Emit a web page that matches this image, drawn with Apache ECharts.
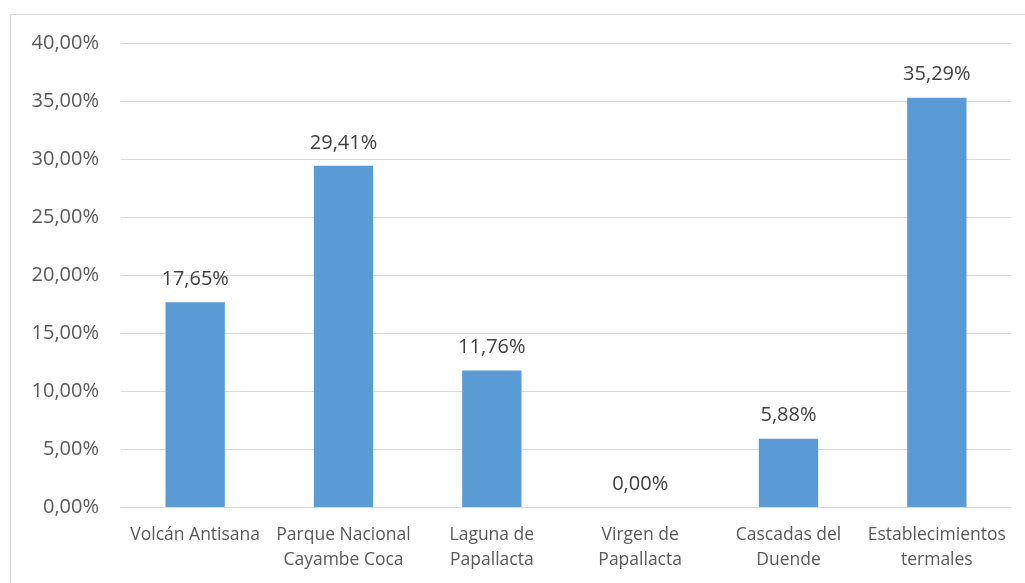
<!DOCTYPE html>
<html><head><meta charset="utf-8">
<script src="https://cdn.jsdelivr.net/npm/echarts@6/dist/echarts.min.js"></script>
<style>html,body{margin:0;padding:0;background:#fff}#c{width:1025px;height:583px}</style>
</head><body><div id="c"></div>
<script>
const categories = ["Volcán Antisana", "Parque Nacional\nCayambe Coca", "Laguna de\nPapallacta", "Virgen de\nPapallacta", "Cascadas del\nDuende", "Establecimientos\ntermales"];
const values = [17.65, 29.41, 11.76, 0.00, 5.88, 35.29];
const fmt = v => v.toFixed(2).replace('.', ',') + '%';
const FONT = '"Open Sans", sans-serif';
const chart = echarts.init(document.getElementById('c'));
chart.setOption({
  animation: false,
  textStyle: { fontFamily: FONT },
  graphic: [{ type: 'rect', shape: { x: 10.5, y: 14.5, width: 1100, height: 700 }, style: { fill: 'none', stroke: '#d9d9d9', lineWidth: 1 }, silent: true }],
  grid: { left: 121, right: 14, top: 43, bottom: 76 },
  xAxis: {
    type: 'category', data: categories,
    axisLine: { lineStyle: { color: '#d9d9d9' } }, axisTick: { show: false },
    axisLabel: { color: '#595959', fontSize: 17.5, lineHeight: 25, margin: 16, interval: 0, fontFamily: FONT }
  },
  yAxis: {
    type: 'value', min: 0, max: 40, interval: 5,
    axisLine: { show: false }, axisTick: { show: false },
    splitLine: { lineStyle: { color: '#d9d9d9', width: 1 } },
    axisLabel: { color: '#595959', fontSize: 20, margin: 22, formatter: v => fmt(v), fontFamily: FONT }
  },
  series: [{
    type: 'bar', data: values, barCategoryGap: '60%',
    itemStyle: { color: '#5b9bd5' },
    label: { show: true, position: 'top', distance: 13, color: '#404040', fontSize: 20, formatter: p => fmt(p.value), fontFamily: FONT }
  }]
});
</script></body></html>
